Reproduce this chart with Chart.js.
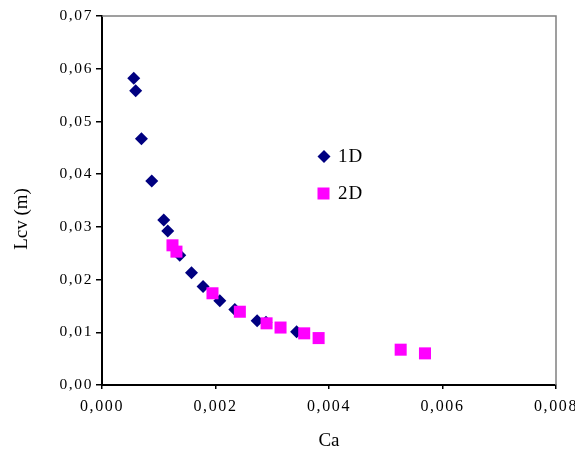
<!DOCTYPE html>
<html>
<head>
<meta charset="utf-8">
<script src="https://cdn.jsdelivr.net/npm/chart.js@4"></script>
<style>
  body { margin: 0; background: #fff; }
</style>
</head>
<body>
<canvas id="chart" width="575" height="453"></canvas>
<script>
// Ca (x) and Lcv in m (y) for each series
const ca1D  = [0.000559, 0.000594, 0.000695, 0.000877, 0.001088, 0.001159, 0.00137, 0.001577, 0.001781, 0.002076, 0.00234, 0.002734, 0.00289, 0.003429];
const lcv1D = [0.0582, 0.0558, 0.0467, 0.0387, 0.0313, 0.0292, 0.0246, 0.0213, 0.0187, 0.0160, 0.0143, 0.0122, 0.0119, 0.0101];
const ca2D  = [0.001242, 0.001312, 0.001947, 0.002429, 0.0029, 0.003146, 0.003563, 0.003817, 0.005263, 0.005691];
const lcv2D = [0.0265, 0.0253, 0.0174, 0.0139, 0.0117, 0.0109, 0.0098, 0.0089, 0.0067, 0.0060];

const seriesNames = ['1D', '2D'];
const xTitle = 'Ca';
const yTitle = 'Lcv (m)';
const xTicks = [0, 0.002, 0.004, 0.006, 0.008];
const yTicks = [0, 0.01, 0.02, 0.03, 0.04, 0.05, 0.06, 0.07];

const serif = "'Liberation Serif', 'Times New Roman', serif";

function toPoints(xs, ys) {
  return xs.map((x, i) => ({ x: x, y: ys[i] }));
}

// gray frame on top/right, axis titles, legend inside plot;
// tick labels get the wide letter spacing of the original
const framePlugin = {
  id: 'frame',
  beforeDraw(chart) {
    chart.ctx.letterSpacing = '1.6px';
  },
  afterDraw(chart) {
    const ctx = chart.ctx;
    const a = chart.chartArea;
    ctx.save();
    ctx.strokeStyle = '#808080';
    ctx.lineWidth = 1.5;
    ctx.beginPath();
    ctx.moveTo(a.left, a.top);
    ctx.lineTo(a.right, a.top);
    ctx.lineTo(a.right, a.bottom);
    ctx.stroke();

    ctx.letterSpacing = '0px';
    ctx.fillStyle = '#000';
    ctx.font = '19px ' + serif;
    ctx.textAlign = 'center';
    ctx.textBaseline = 'middle';
    ctx.fillText(xTitle, (a.left + a.right) / 2, 441);
    ctx.save();
    ctx.translate(22, 219);
    ctx.rotate(-Math.PI / 2);
    ctx.fillText(yTitle, 0, 0);
    ctx.restore();

    // legend
    ctx.letterSpacing = '1px';
    ctx.textAlign = 'left';
    ctx.fillStyle = '#000080';
    ctx.beginPath();
    ctx.moveTo(324, 150);
    ctx.lineTo(330.5, 156.5);
    ctx.lineTo(324, 163);
    ctx.lineTo(317.5, 156.5);
    ctx.closePath();
    ctx.fill();
    ctx.fillStyle = '#ff00ff';
    ctx.fillRect(317.5, 187.5, 12, 12);
    ctx.fillStyle = '#000';
    ctx.fillText(seriesNames[0], 338, 157);
    ctx.fillText(seriesNames[1], 338, 194);
    ctx.restore();
  }
};

new Chart(document.getElementById('chart'), {
  type: 'scatter',
  data: {
    datasets: [{
      label: seriesNames[0],
      data: toPoints(ca1D, lcv1D),
      pointStyle: 'rectRot',
      pointRadius: 6.5,
      pointHoverRadius: 6.5,
      backgroundColor: '#000080',
      borderColor: '#000080',
      borderWidth: 0,
      order: 2
    }, {
      label: seriesNames[1],
      data: toPoints(ca2D, lcv2D),
      pointStyle: 'rect',
      pointRadius: 8.5,
      pointHoverRadius: 8.5,
      backgroundColor: '#ff00ff',
      borderColor: '#ff00ff',
      borderWidth: 0,
      order: 1
    }]
  },
  options: {
    responsive: false,
    animation: false,
    layout: { padding: { left: 0, right: 19, top: 16, bottom: 0 } },
    plugins: {
      legend: { display: false },
      tooltip: { enabled: false }
    },
    scales: {
      x: {
        type: 'linear',
        min: 0,
        max: 0.008,
        afterFit(scale) {
          scale.height = 68;
          scale.paddingLeft = 0;
          scale.paddingRight = 0;
        },
        afterBuildTicks(scale) { scale.ticks = xTicks.map(v => ({ value: v })); },
        grid: { drawOnChartArea: false, drawTicks: true, tickLength: 4, color: '#000', lineWidth: 1.5 },
        border: { display: true, color: '#000', width: 2 },
        ticks: {
          color: '#000',
          font: { family: serif, size: 16 },
          padding: 8,
          maxRotation: 0,
          autoSkip: false,
          callback: v => v.toFixed(3).replace('.', ',')
        }
      },
      y: {
        type: 'linear',
        min: 0,
        max: 0.07,
        afterFit(scale) {
          scale.width = 102;
          scale.paddingTop = 0;
          scale.paddingBottom = 0;
        },
        afterBuildTicks(scale) { scale.ticks = yTicks.map(v => ({ value: v })); },
        grid: { drawOnChartArea: false, drawTicks: true, tickLength: 6, color: '#000', lineWidth: 1.5 },
        border: { display: true, color: '#000', width: 2 },
        ticks: {
          color: '#000',
          font: { family: serif, size: 15.5 },
          padding: 3,
          autoSkip: false,
          callback: v => v.toFixed(2).replace('.', ',')
        }
      }
    }
  },
  plugins: [framePlugin]
});
</script>
</body>
</html>
